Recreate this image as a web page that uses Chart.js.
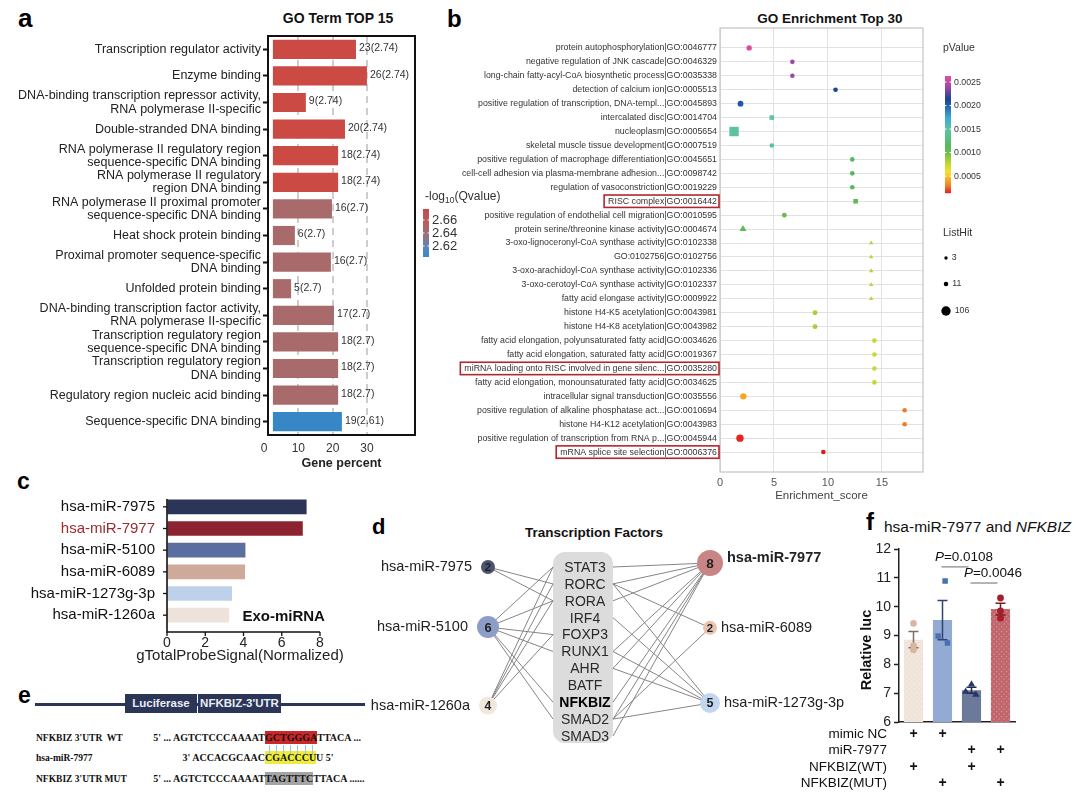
<!DOCTYPE html>
<html><head><meta charset="utf-8">
<script src="https://cdn.jsdelivr.net/npm/chart.js@4.4.1/dist/chart.umd.min.js"></script>
<style>
html,body{margin:0;padding:0;background:#fff}
#page{position:relative;width:1080px;height:804px;overflow:hidden;font-family:"Liberation Sans",Arial,sans-serif;color:#111;background:#fff}
canvas{position:absolute}
.t{position:absolute;white-space:nowrap}
.letter{font-weight:bold;line-height:1;color:#000}
.title{font-weight:bold;transform:translateX(-50%);line-height:16px;color:#111}
.box{background:#2b3556;color:#e9edf6;font-weight:bold;font-size:11.5px;text-align:center;line-height:19px}
.seqlab{font-family:"Liberation Serif","Times New Roman",serif;font-weight:bold;font-size:9.5px;line-height:14px;color:#111}
.seq{font-family:"Liberation Serif","Times New Roman",serif;font-weight:bold;font-size:10px;line-height:14px;color:#111}
.hl{display:inline-block;line-height:13px}
</style></head><body><div id="page">

<div class="t letter" style="left:18px;top:5px;font-size:26px">a</div>
<div class="t letter" style="left:447px;top:7px;font-size:24px">b</div>
<div class="t letter" style="left:17px;top:470px;font-size:23px">c</div>
<div class="t letter" style="left:372px;top:516px;font-size:22px">d</div>
<div class="t letter" style="left:18px;top:684px;font-size:23px">e</div>
<div class="t letter" style="left:866px;top:510px;font-size:24px">f</div>

<div class="t title" style="left:338px;top:10px;font-size:14px">GO Term TOP 15</div>
<div class="t title" style="left:830px;top:11px;font-size:13.5px">GO Enrichment Top 30</div>
<div class="t title" style="left:594px;top:525px;font-size:13.5px">Transcription Factors</div>
<div class="t" style="left:884px;top:518px;font-size:15.5px;line-height:18px;color:#111">hsa-miR-7977 and <i>NFKBIZ</i></div>

<canvas id="cA" width="510" height="475" style="left:0;top:0;width:510px;height:475px"></canvas>
<canvas id="cB" width="640" height="507" style="left:440px;top:0;width:640px;height:507px"></canvas>
<canvas id="cC" width="370" height="195" style="left:0;top:475px;width:370px;height:195px"></canvas>
<canvas id="cD" width="500" height="245" style="left:370px;top:515px;width:500px;height:245px"></canvas>
<canvas id="cF" width="280" height="289" style="left:800px;top:515px;width:280px;height:289px"></canvas>

<!-- panel e : luciferase construct -->
<div class="t" style="left:35px;top:703px;width:330px;height:2.5px;background:#2b3556"></div>
<div class="t box" style="left:125px;top:694px;width:72px;height:19px">Luciferase</div>
<div class="t box" style="left:198px;top:694px;width:83px;height:19px">NFKBIZ-3'UTR</div>
<div class="t seqlab" style="left:36px;top:731px">NFKBIZ 3'UTR&nbsp; WT</div>
<div class="t seqlab" style="left:36px;top:751px">hsa-miR-7977</div>
<div class="t seqlab" style="left:36px;top:772px">NFKBIZ 3'UTR MUT</div>
<div class="t seq" style="right:815px;top:731px">5' ... AGTCTCCCAAAAT</div>
<div class="t seq" style="left:265px;top:731px"><span class="hl" style="background:#c8282a">GCTGGGA</span>TTACA ...</div>
<div class="t seq" style="right:815px;top:751px">3' ACCACGCAAC</div>
<div class="t seq" style="left:265px;top:751px"><span class="hl" style="background:#f0ec3c">CGACCCU</span>U 5'</div>
<div class="t seq" style="right:815px;top:772px">5' ... AGTCTCCCAAAAT</div>
<div class="t seq" style="left:265px;top:772px"><span class="hl" style="background:#a4a4a4">TAGTTTC</span>TTACA ......</div>
<div id="pairLines"></div>

</div>
<script>
// ================= DATA =================
// Panel a : GO term top 15
const goTermLabels = [
  ['Transcription regulator activity'],
  ['Enzyme binding'],
  ['DNA-binding transcription repressor activity,','RNA polymerase II-specific'],
  ['Double-stranded DNA binding'],
  ['RNA polymerase II regulatory region','sequence-specific DNA binding'],
  ['RNA polymerase II regulatory','region DNA binding'],
  ['RNA polymerase II proximal promoter','sequence-specific DNA binding'],
  ['Heat shock protein binding'],
  ['Proximal promoter sequence-specific','DNA binding'],
  ['Unfolded protein binding'],
  ['DNA-binding transcription factor activity,','RNA polymerase II-specific'],
  ['Transcription regulatory region','sequence-specific DNA binding'],
  ['Transcription regulatory region','DNA binding'],
  ['Regulatory region nucleic acid binding'],
  ['Sequence-specific DNA binding']
];
const goCounts = [23,26,9,20,18,18,16,6,16,5,17,18,18,18,19];
const goQvalues = [2.74,2.74,2.74,2.74,2.74,2.74,2.7,2.7,2.7,2.7,2.7,2.7,2.7,2.7,2.61];
const goPercentEnd = [26.8,30.0,12.2,23.6,21.6,21.6,19.8,9.0,19.5,7.9,20.4,21.6,21.6,21.6,22.7];
const goBarStart = 2.6;
const goXTicks = [0,10,20,30];
const qLegendTicks = [2.66,2.64,2.62];

// Panel b : GO enrichment top 30
const enrichTerms = [
  'protein autophosphorylation|GO:0046777',
  'negative regulation of JNK cascade|GO:0046329',
  'long-chain fatty-acyl-CoA biosynthetic process|GO:0035338',
  'detection of calcium ion|GO:0005513',
  'positive regulation of transcription, DNA-templ...|GO:0045893',
  'intercalated disc|GO:0014704',
  'nucleoplasm|GO:0005654',
  'skeletal muscle tissue development|GO:0007519',
  'positive regulation of macrophage differentiation|GO:0045651',
  'cell-cell adhesion via plasma-membrane adhesion...|GO:0098742',
  'regulation of vasoconstriction|GO:0019229',
  'RISC complex|GO:0016442',
  'positive regulation of endothelial cell migration|GO:0010595',
  'protein serine/threonine kinase activity|GO:0004674',
  '3-oxo-lignoceronyl-CoA synthase activity|GO:0102338',
  'GO:0102756|GO:0102756',
  '3-oxo-arachidoyl-CoA synthase activity|GO:0102336',
  '3-oxo-cerotoyl-CoA synthase activity|GO:0102337',
  'fatty acid elongase activity|GO:0009922',
  'histone H4-K5 acetylation|GO:0043981',
  'histone H4-K8 acetylation|GO:0043982',
  'fatty acid elongation, polyunsaturated fatty acid|GO:0034626',
  'fatty acid elongation, saturated fatty acid|GO:0019367',
  'miRNA loading onto RISC involved in gene silenc...|GO:0035280',
  'fatty acid elongation, monounsaturated fatty acid|GO:0034625',
  'intracellular signal transduction|GO:0035556',
  'positive regulation of alkaline phosphatase act...|GO:0010694',
  'histone H4-K12 acetylation|GO:0043983',
  'positive regulation of transcription from RNA p...|GO:0045944',
  'mRNA splice site selection|GO:0006376'
];
const enrichScore = [2.7,6.7,6.7,10.7,1.9,4.8,1.3,4.8,12.25,12.25,12.25,12.56,5.96,2.13,14.0,14.0,14.0,14.0,14.0,8.8,8.8,14.3,14.3,14.3,14.3,2.16,17.1,17.1,1.85,9.57];
const enrichP = [0.0026,0.0024,0.0024,0.00215,0.00205,0.0015,0.00148,0.00145,0.00115,0.00115,0.00115,0.0011,0.00105,0.0011,0.0008,0.0008,0.0008,0.0008,0.0008,0.00085,0.00085,0.00075,0.00075,0.00075,0.00075,0.00042,0.0003,0.0003,0.00016,0.00014];
const enrichListHit = [21,12,12,12,27,12,106,12,12,12,12,12,14,33,6,6,6,6,6,15,15,12,12,12,12,36,12,12,55,12];
const enrichOntology = ['BP','BP','BP','BP','BP','CC','CC','BP','BP','BP','BP','CC','BP','MF','MF','MF','MF','MF','MF','BP','BP','BP','BP','BP','BP','BP','BP','BP','BP','BP'];
const highlightedTerms = ['RISC complex|GO:0016442','miRNA loading onto RISC involved in gene silenc...|GO:0035280','mRNA splice site selection|GO:0006376'];
const enrichXTicks = [0,5,10,15];
const pLegendTicks = [0.0025,0.0020,0.0015,0.0010,0.0005];
const listHitLegend = [3,11,106];

// Panel c : exosomal miRNA signal
const exoMiRNAs = ['hsa-miR-7975','hsa-miR-7977','hsa-miR-5100','hsa-miR-6089','hsa-miR-1273g-3p','hsa-miR-1260a'];
const exoSignal = [7.3,7.1,4.1,4.08,3.4,3.25];
const exoColors = ['#2b3558','#8b2430','#5a6f9f','#cfaa9a','#bed1ea','#ede3db'];
const exoXTicks = [0,2,4,6,8];

// Panel d : miRNA - transcription factor network
const tfNames = ['STAT3','RORC','RORA','IRF4','FOXP3','RUNX1','AHR','BATF','NFKBIZ','SMAD2','SMAD3'];
const leftMiRNAs = ['hsa-miR-7975','hsa-miR-5100','hsa-miR-1260a'];
const rightMiRNAs = ['hsa-miR-7977','hsa-miR-6089','hsa-miR-1273g-3p'];
const tfLinks = [
  ['hsa-miR-7975','RORC'],['hsa-miR-7975','RORA'],
  ['hsa-miR-5100','STAT3'],['hsa-miR-5100','RORA'],['hsa-miR-5100','FOXP3'],['hsa-miR-5100','RUNX1'],['hsa-miR-5100','NFKBIZ'],['hsa-miR-5100','SMAD2'],
  ['hsa-miR-1260a','STAT3'],['hsa-miR-1260a','RORC'],['hsa-miR-1260a','RORA'],['hsa-miR-1260a','FOXP3'],
  ['hsa-miR-7977','STAT3'],['hsa-miR-7977','RORC'],['hsa-miR-7977','RORA'],['hsa-miR-7977','RUNX1'],['hsa-miR-7977','AHR'],['hsa-miR-7977','NFKBIZ'],['hsa-miR-7977','SMAD2'],['hsa-miR-7977','SMAD3'],
  ['hsa-miR-6089','RORC'],['hsa-miR-6089','SMAD2'],
  ['hsa-miR-1273g-3p','RORC'],['hsa-miR-1273g-3p','IRF4'],['hsa-miR-1273g-3p','RUNX1'],['hsa-miR-1273g-3p','AHR'],['hsa-miR-1273g-3p','SMAD2']
];
const nodeColors = {'hsa-miR-7975':'#4d5372','hsa-miR-5100':'#8c9ec8','hsa-miR-1260a':'#f1e7dc','hsa-miR-7977':'#c98585','hsa-miR-6089':'#e8c4ae','hsa-miR-1273g-3p':'#c3d6f0'};

// Panel f : luciferase assay
const lucGroups = ['NC+WT','NC+MUT','miR-7977+WT','miR-7977+MUT'];
const lucReplicates = [[9.42,8.65,8.5],[10.89,8.98,8.74],[7.3,7.05,6.95],[10.3,9.85,9.6]];
const lucJitter = [[0,0,0],[0.09,-0.15,0.17],[0,-0.2,0.15],[0,0,0]];
const conditionRows = ['mimic NC','miR-7977','NFKBIZ(WT)','NFKBIZ(MUT)'];
const conditionMatrix = [[1,1,0,0],[0,0,1,1],[1,0,1,0],[0,1,0,1]];
const sigTests = [{a:1,b:2,p:'0.0108',y:11.38},{a:2,b:3,p:'0.0046',y:10.82}];

// ================= HELPERS =================
const FONT = '"Liberation Sans", Arial, Helvetica, sans-serif';
Chart.defaults.font.family = FONT;
Chart.defaults.color = '#222';
Chart.defaults.animation = false;
Chart.defaults.responsive = false;
Chart.defaults.maintainAspectRatio = false;
Chart.defaults.plugins.legend.display = false;
Chart.defaults.plugins.tooltip.enabled = false;

function interp(stops, v){
  if (v <= stops[0][0]) return `rgb(${stops[0][1].join(',')})`;
  for (let i=1;i<stops.length;i++){
    if (v <= stops[i][0]){
      const t=(v-stops[i-1][0])/(stops[i][0]-stops[i-1][0]);
      const a=stops[i-1][1], b=stops[i][1];
      return `rgb(${a.map((c,k)=>Math.round(c+(b[k]-c)*t)).join(',')})`;
    }
  }
  return `rgb(${stops[stops.length-1][1].join(',')})`;
}
const qStops = [[2.61,[55,134,198]],[2.66,[150,110,125]],[2.70,[168,106,106]],[2.74,[204,74,68]]];
const pStops = [
  [0.00014,[232,22,30]],[0.00030,[236,126,42]],[0.00042,[245,166,35]],[0.00060,[245,226,42]],
  [0.00080,[184,212,52]],[0.00100,[110,190,70]],[0.00115,[86,184,92]],[0.00150,[92,196,160]],
  [0.00175,[62,170,210]],[0.00205,[31,86,168]],[0.00215,[29,68,147]],[0.00240,[155,72,166]],[0.00263,[226,76,160]]
];
const pMin = 0.00014, pMax = 0.00263;
const hitRadius = n => 0.35*Math.sqrt(n)+1.09;

// ================= PANEL A =================
const pluginA = {
  id:'panelA',
  afterDatasetsDraw(chart){
    const {ctx, chartArea:a} = chart;
    const meta = chart.getDatasetMeta(0);
    ctx.save();
    ctx.font = `10.5px ${FONT}`; ctx.fillStyle='#333'; ctx.textBaseline='middle'; ctx.textAlign='left';
    meta.data.forEach((bar,i)=>ctx.fillText(`${goCounts[i]}(${goQvalues[i]})`, bar.x+3, bar.y-1));
    ctx.strokeStyle='#111'; ctx.lineWidth=2;
    ctx.strokeRect(a.left, a.top, a.right-a.left, a.bottom-a.top);
    let x=425; const y=197;
    ctx.fillStyle='#333'; ctx.font=`12px ${FONT}`;
    ctx.fillText('-log', x, y); x += ctx.measureText('-log').width;
    ctx.font=`8.5px ${FONT}`; ctx.fillText('10', x, y+4); x += ctx.measureText('10').width;
    ctx.font=`12px ${FONT}`; ctx.fillText('(Qvalue)', x, y);
    const top=209, bot=257, lx=423, w=6;
    const g = ctx.createLinearGradient(0,top,0,bot);
    g.addColorStop(0,'#c9474a'); g.addColorStop(0.3,'#b55f5f'); g.addColorStop(0.55,'#9a6f7e');
    g.addColorStop(0.78,'#5f86b8'); g.addColorStop(1,'#3a88c8');
    ctx.fillStyle=g; ctx.fillRect(lx,top,w,bot-top);
    ctx.font=`13px ${FONT}`; ctx.fillStyle='#333';
    qLegendTicks.forEach((q,i)=>{
      const ty = 220 + i*13;
      ctx.strokeStyle='#fff'; ctx.lineWidth=1;
      ctx.beginPath(); ctx.moveTo(lx,ty); ctx.lineTo(lx+1.5,ty); ctx.moveTo(lx+w-1.5,ty); ctx.lineTo(lx+w,ty); ctx.stroke();
      ctx.fillText(q.toFixed(2), 432, ty);
    });
    ctx.restore();
  }
};
new Chart(document.getElementById('cA'), {
  type:'bar',
  data:{labels:goTermLabels, datasets:[{
    data: goPercentEnd.map(v=>[goBarStart,v]),
    backgroundColor: goQvalues.map(q=>interp(qStops,q)),
    borderWidth:0, borderSkipped:false, barPercentage:0.72, categoryPercentage:1
  }]},
  options:{
    indexAxis:'y',
    layout:{padding:{top:36,right:95,left:0,bottom:0}},
    scales:{
      x:{min:1.17,max:44,
        afterBuildTicks:s=>{s.ticks=goXTicks.map(v=>({value:v}));},
        afterFit:s=>{s.height=40;},
        grid:{color:c=>(c.tick&&c.tick.value===0)?'rgba(0,0,0,0)':'#cdcdcd',lineWidth:2,drawTicks:false},
        border:{display:false,dash:[7,5]},
        ticks:{font:{size:12},color:'#333',padding:6},
        title:{display:true,text:'Gene percent',font:{size:12.5,weight:'bold'},color:'#222',padding:{top:0,bottom:4}}
      },
      y:{
        afterFit:s=>{s.width=268;},
        grid:{drawOnChartArea:false,drawTicks:true,tickLength:5,tickColor:'#111',tickWidth:2,offset:false},
        border:{display:false},
        ticks:{font:{size:12.5,lineHeight:1.06},color:'#222',padding:2,autoSkip:false}
      }
    }
  },
  plugins:[pluginA]
});

// ================= PANEL B =================
const B_LEFT = 440;
const bx = px => px - B_LEFT;
const pluginB = {
  id:'panelB',
  beforeDatasetsDraw(chart){
    const {ctx, chartArea:a} = chart;
    ctx.save(); ctx.strokeStyle='#c4c4c4'; ctx.lineWidth=1.2;
    ctx.strokeRect(a.left, a.top, a.right-a.left, a.bottom-a.top); ctx.restore();
  },
  afterDraw(chart){
    const {ctx, chartArea:a, scales} = chart;
    ctx.save();
    ctx.font=`8.8px ${FONT}`;
    ctx.strokeStyle='#b3262e'; ctx.lineWidth=1.6;
    highlightedTerms.forEach(term=>{
      const i = enrichTerms.indexOf(term);
      const y = scales.y.getPixelForValue(i);
      const w = ctx.measureText(term).width;
      const right = a.left - 1;
      ctx.strokeRect(right - w - 6, y-6.2, w+6, 12.4);
    });
    ctx.fillStyle='#333'; ctx.textBaseline='middle'; ctx.textAlign='left';
    ctx.font=`10.5px ${FONT}`;
    ctx.fillText('pValue', bx(943), 48);
    const top=76, bot=193, lx=bx(945), w=6;
    const yOf = v => bot - (v-pMin)/(pMax-pMin)*(bot-top);
    for (let y=top; y<bot; y+=1){
      const v = pMin + (bot-y)/(bot-top)*(pMax-pMin);
      ctx.fillStyle = interp(pStops, v); ctx.fillRect(lx, y, w, 1.2);
    }
    ctx.font=`8.8px ${FONT}`;
    pLegendTicks.forEach(v=>{
      const y=yOf(v);
      ctx.strokeStyle='#fff'; ctx.lineWidth=1;
      ctx.beginPath(); ctx.moveTo(lx,y); ctx.lineTo(lx+1.5,y); ctx.moveTo(lx+w-1.5,y); ctx.lineTo(lx+w,y); ctx.stroke();
      ctx.fillStyle='#333'; ctx.fillText(v.toFixed(4), bx(954), y);
    });
    ctx.font=`10.5px ${FONT}`; ctx.fillText('ListHit', bx(943), 233);
    ctx.font=`8.8px ${FONT}`;
    listHitLegend.forEach((n,i)=>{
      const y=[258,284,311][i]; const r=hitRadius(n);
      ctx.fillStyle='#000'; ctx.beginPath(); ctx.arc(bx(946),y,r,0,Math.PI*2); ctx.fill();
      ctx.fillStyle='#333'; ctx.fillText(String(n), bx(946)+r+4, y);
    });
    ctx.restore();
  }
};
const shapeOf = {BP:'circle',CC:'rect',MF:'triangle'};
const radiusScale = {BP:1, CC:Math.SQRT2, MF:1.3};
new Chart(document.getElementById('cB'), {
  type:'scatter',
  data:{datasets:[{
    data: enrichScore.map((x,i)=>({x, y:i})),
    pointStyle: enrichOntology.map(o=>shapeOf[o]),
    pointRadius: enrichListHit.map((n,i)=>hitRadius(n)*radiusScale[enrichOntology[i]]),
    pointBackgroundColor: enrichP.map(p=>interp(pStops,p)),
    pointBorderColor: enrichP.map(p=>interp(pStops,p)),
    pointBorderWidth:0
  }]},
  options:{
    layout:{padding:{top:28,right:640-bx(923),left:0,bottom:0}},
    scales:{
      x:{min:0,max:18.8,
        afterBuildTicks:s=>{s.ticks=enrichXTicks.map(v=>({value:v}));},
        afterFit:s=>{s.height=35;},
        grid:{color:'#e2e2e2',lineWidth:1,drawTicks:false},
        border:{display:false},
        ticks:{font:{size:11},color:'#555',padding:4},
        title:{display:true,text:'Enrichment_score',font:{size:11.5},color:'#444',padding:{top:0,bottom:4}}
      },
      y:{min:-1.43,max:30.43,reverse:true,
        afterBuildTicks:s=>{s.ticks=enrichTerms.map((_,i)=>({value:i}));},
        afterFit:s=>{s.width=bx(720);},
        grid:{color:'#e2e2e2',lineWidth:1,drawTicks:false},
        border:{display:false},
        ticks:{font:{size:8.8},color:'#333',padding:3,autoSkip:false,callback:v=>enrichTerms[v]}
      }
    }
  },
  plugins:[pluginB]
});

// ================= PANEL C =================
const pluginC = {
  id:'panelC',
  afterDraw(chart){
    const {ctx, chartArea:a, scales} = chart;
    const axisY = a.bottom + 6;
    ctx.save();
    ctx.strokeStyle='#111'; ctx.lineWidth=1.6;
    ctx.beginPath(); ctx.moveTo(a.left, a.top+3); ctx.lineTo(a.left, axisY); ctx.lineTo(a.right, axisY); ctx.stroke();
    ctx.lineWidth=1.3;
    exoMiRNAs.forEach((_,i)=>{ const y=scales.y.getPixelForValue(i); ctx.beginPath(); ctx.moveTo(a.left-4,y); ctx.lineTo(a.left,y); ctx.stroke(); });
    exoXTicks.forEach(v=>{ const x=scales.x.getPixelForValue(v); ctx.beginPath(); ctx.moveTo(x,axisY); ctx.lineTo(x,axisY+4); ctx.stroke(); });
    ctx.fillStyle='#111'; ctx.font=`bold 15px ${FONT}`; ctx.textAlign='center'; ctx.textBaseline='middle';
    ctx.fillText('Exo-miRNA', scales.x.getPixelForValue(6.1), scales.y.getPixelForValue(5)+2);
    ctx.fillStyle='#222'; ctx.font=`15px ${FONT}`;
    ctx.fillText('gTotalProbeSignal(Normalized)', 240, 181);
    ctx.restore();
  }
};
new Chart(document.getElementById('cC'), {
  type:'bar',
  data:{labels:exoMiRNAs, datasets:[{data:exoSignal, backgroundColor:exoColors, borderWidth:0, barPercentage:0.68, categoryPercentage:1}]},
  options:{
    indexAxis:'y',
    layout:{padding:{top:8,right:50,left:0,bottom:0}},
    scales:{
      x:{min:0,max:8,
        afterBuildTicks:s=>{s.ticks=exoXTicks.map(v=>({value:v}));},
        ticks:{font:{size:14},color:'#222',padding:9},
        afterFit:s=>{s.height=44;},
        grid:{display:true,drawOnChartArea:false,drawTicks:false,color:'rgba(0,0,0,0)'},
        border:{display:false}
      },
      y:{afterFit:s=>{s.width=167;},
        grid:{display:true,drawOnChartArea:false,drawTicks:false,color:'rgba(0,0,0,0)'},
        border:{display:false},
        ticks:{font:{size:15},padding:12,autoSkip:false,color:c=>c.index===1?'#9b2b30':'#111'}
      }
    }
  },
  plugins:[pluginC]
});

// ================= PANEL D =================
const nodeLayout = {
  'hsa-miR-7975':{col:0,row:0},
  'hsa-miR-5100':{col:0,row:3.55},
  'hsa-miR-1260a':{col:0,row:8.2},
  'hsa-miR-7977':{col:2,row:-0.24},
  'hsa-miR-6089':{col:2,row:3.6},
  'hsa-miR-1273g-3p':{col:2,row:8.05}
};
const tfEdgeX = [0.586, 1.126];
const tfCenterX = 0.874;
const allMiRNAs = [...leftMiRNAs, ...rightMiRNAs];
const degreeOf = m => tfLinks.filter(l=>l[0]===m).length;
const nodeRadius = m => 5 + degreeOf(m);
const pluginD = {
  id:'panelD',
  beforeDatasetsDraw(chart){
    const {ctx, scales:{x,y}} = chart;
    const l=x.getPixelForValue(tfEdgeX[0]), r=x.getPixelForValue(tfEdgeX[1]);
    const t=y.getPixelForValue(0)-15, b=y.getPixelForValue(tfNames.length-1)+7;
    ctx.save(); ctx.fillStyle='#dcdcdc';
    ctx.beginPath(); ctx.roundRect(l,t,r-l,b-t,12); ctx.fill(); ctx.restore();
  },
  afterDatasetsDraw(chart){
    const {ctx, scales:{x,y}} = chart;
    ctx.save(); ctx.textBaseline='middle';
    tfNames.forEach((tf,i)=>{
      ctx.font = (tf==='NFKBIZ'?'bold ':'') + `14px ${FONT}`;
      ctx.fillStyle = tf==='NFKBIZ' ? '#000' : '#2a2a2a'; ctx.textAlign='center';
      ctx.fillText(tf, x.getPixelForValue(tfCenterX), y.getPixelForValue(i)+1);
    });
    allMiRNAs.forEach(m=>{
      const n=nodeLayout[m], px=x.getPixelForValue(n.col), py=y.getPixelForValue(n.row), r=nodeRadius(m);
      ctx.fillStyle='#222'; ctx.textAlign='center';
      ctx.font=`bold ${(9+r*0.35).toFixed(1)}px ${FONT}`;
      ctx.fillText(String(degreeOf(m)), px, py+1);
      ctx.font = (m==='hsa-miR-7977'?'bold ':'') + `14.5px ${FONT}`;
      if (n.col===0){ ctx.textAlign='right'; ctx.fillText(m, px-r-9, py); }
      else { ctx.textAlign='left'; ctx.fillText(m, px+r+4, m==='hsa-miR-7977'?py-5:py); }
    });
    ctx.restore();
  }
};
const edgeDatasets = tfLinks.map(([m,tf])=>{
  const n=nodeLayout[m];
  return {type:'scatter', showLine:true, clip:false,
    data:[{x:n.col,y:n.row},{x:n.col===0?tfEdgeX[0]:tfEdgeX[1], y:tfNames.indexOf(tf)}],
    borderColor:'#858585', borderWidth:1, pointRadius:0};
});
const nodeDataset = {type:'scatter', clip:false,
  data: allMiRNAs.map(m=>({x:nodeLayout[m].col, y:nodeLayout[m].row})),
  pointRadius: allMiRNAs.map(nodeRadius),
  pointBackgroundColor: allMiRNAs.map(m=>nodeColors[m]),
  pointBorderWidth:0};
new Chart(document.getElementById('cD'), {
  type:'scatter',
  data:{datasets:[nodeDataset, ...edgeDatasets]},
  options:{
    layout:{padding:{left:118,right:160,top:52,bottom:24}},
    scales:{x:{type:'linear',min:0,max:2,display:false}, y:{type:'linear',min:0,max:10,reverse:true,display:false}}
  },
  plugins:[pluginD]
});

// ================= PANEL E pairing lines =================
(function(){
  const holder=document.getElementById('pairLines');
  for(let i=0;i<7;i++){
    const d=document.createElement('div');
    d.className='t';
    d.style.cssText=`left:${(268.5+i*7.2).toFixed(1)}px;top:745px;width:1px;height:9px;background:#9cc3e2`;
    holder.appendChild(d);
  }
})();

// ================= PANEL F =================
function dotted(base, dot){
  const c=document.createElement('canvas'); c.width=5; c.height=5;
  const x=c.getContext('2d'); x.fillStyle=base; x.fillRect(0,0,5,5);
  x.fillStyle=dot; x.fillRect(1,1,1.2,1.2); x.fillRect(3.5,3.5,1.2,1.2);
  return x.createPattern(c,'repeat');
}
const mean = a => a.reduce((s,v)=>s+v,0)/a.length;
const sem = a => { const m=mean(a); return Math.sqrt(a.reduce((s,v)=>s+(v-m)**2,0)/(a.length-1))/Math.sqrt(a.length); };
const lucMeans = lucReplicates.map(mean);
const lucBarColors = [dotted('#f0e4d9','#f8f1ea'),'#93abd3','#6b7a9b',dotted('#c2666d','#d99197')];
const lucPointColors = ['#d9b69f','#4b70b2','#26386a','#a61e2b'];
const lucErrColors = ['#7d6e66','#2f4470','#1f2a4a','#7c1a24'];
const lucShapes = ['circle','rect','triangle','circle'];
const lucRadius = [3.3,3.9,4.2,3.4];
const BAR_DS = lucGroups.length;
const pluginF = {
  id:'panelF',
  afterDatasetDraw(chart,args){
    if (args.index !== BAR_DS) return;
    const {ctx, scales} = chart;
    ctx.save(); ctx.lineWidth=1.5;
    lucReplicates.forEach((r,i)=>{
      const x=scales.x.getPixelForValue(i), m=lucMeans[i], e=sem(r);
      const y1=scales.y.getPixelForValue(m+e), y2=scales.y.getPixelForValue(m-e);
      ctx.strokeStyle=lucErrColors[i];
      ctx.beginPath(); ctx.moveTo(x,y1); ctx.lineTo(x,y2);
      ctx.moveTo(x-5,y1); ctx.lineTo(x+5,y1); ctx.moveTo(x-5,y2); ctx.lineTo(x+5,y2); ctx.stroke();
    });
    ctx.restore();
  },
  afterDraw(chart){
    const {ctx, scales} = chart;
    ctx.save();
    ctx.translate(67,135); ctx.rotate(-Math.PI/2);
    ctx.font=`bold 14.5px ${FONT}`; ctx.fillStyle='#111'; ctx.textAlign='center'; ctx.textBaseline='middle';
    ctx.fillText('Relative luc',0,0);
    ctx.restore();
    ctx.save();
    sigTests.forEach(s=>{
      const xa=scales.x.getPixelForValue(s.a)-1, xb=scales.x.getPixelForValue(s.b)-3, y=scales.y.getPixelForValue(s.y);
      ctx.strokeStyle='#8c8c8c'; ctx.lineWidth=1.3;
      ctx.beginPath(); ctx.moveTo(xa,y); ctx.lineTo(xb,y); ctx.stroke();
      ctx.font=`italic 13.5px ${FONT}`; const wP=ctx.measureText('P').width;
      ctx.font=`13.5px ${FONT}`; const wR=ctx.measureText('='+s.p).width;
      const cx=(xa+xb)/2+9, sx=cx-(wP+wR)/2, ty=y-10;
      ctx.fillStyle='#111'; ctx.textBaseline='middle'; ctx.textAlign='left';
      ctx.font=`italic 13.5px ${FONT}`; ctx.fillText('P',sx,ty);
      ctx.font=`13.5px ${FONT}`; ctx.fillText('='+s.p,sx+wP,ty);
    });
    const rowsY=[219,235,252,268];
    conditionRows.forEach((lab,r)=>{
      ctx.font=`13.5px ${FONT}`; ctx.fillStyle='#111'; ctx.textAlign='right'; ctx.textBaseline='middle';
      ctx.fillText(lab, 87, rowsY[r]);
      ctx.font=`bold 14px ${FONT}`; ctx.textAlign='center';
      conditionMatrix[r].forEach((on,i)=>{ if(on) ctx.fillText('+', scales.x.getPixelForValue(i), rowsY[r]); });
    });
    ctx.restore();
  }
};
new Chart(document.getElementById('cF'), {
  type:'bar',
  data:{labels:lucGroups, datasets:[
    ...lucReplicates.map((r,i)=>({type:'scatter', parsing:false, data:r.map((v,k)=>({x:i+lucJitter[i][k], y:v})),
      pointStyle:lucShapes[i], pointRadius:lucRadius[i], pointBackgroundColor:lucPointColors[i], pointBorderWidth:0})),
    {type:'bar', data:lucMeans, backgroundColor:lucBarColors, borderWidth:0, barPercentage:0.66, categoryPercentage:1}
  ]},
  options:{
    layout:{padding:{top:34,right:65,left:0,bottom:82}},
    scales:{
      x:{type:'category', offset:true, afterFit:s=>{s.height=0;}, ticks:{display:false}, grid:{display:false}, border:{display:true,color:'#222',width:1.5}},
      y:{min:6,max:12, afterFit:s=>{s.width=99;},
        ticks:{stepSize:1,font:{size:14},color:'#222',padding:3},
        grid:{drawOnChartArea:false,drawTicks:true,tickLength:5,tickColor:'#222',tickWidth:1.5},
        border:{display:true,color:'#222',width:1.5}
      }
    }
  },
  plugins:[pluginF]
});
</script>
</body></html>
